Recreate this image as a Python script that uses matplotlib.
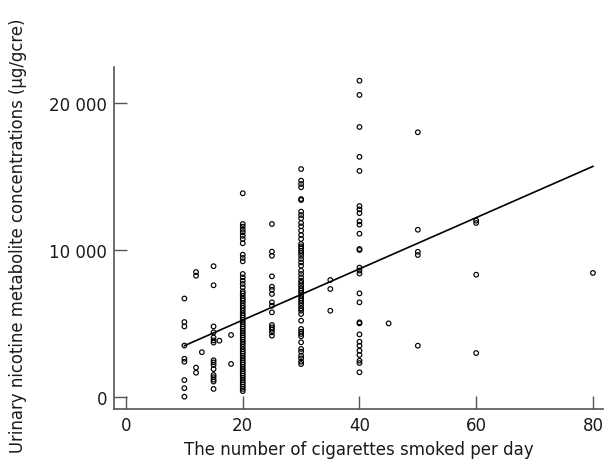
import matplotlib
matplotlib.use("Agg")
import matplotlib.pyplot as plt
import numpy as np

# cigarettes per day -> urinary nicotine metabolite (ug/gcre)
cig10 = [6700, 5100, 4800, 3500, 2600, 2400, 1150, 600, 20]
cig12 = [8500, 8250, 2000, 1650]
cig13 = [3050]
cig15 = [8900, 7600, 4800, 4400, 4050, 3850, 3700, 2500, 2350, 2180, 1900,
         1500, 1350, 1180, 1050, 550]
cig16 = [3830]
cig18 = [4220, 2250]
cig20 = [13860, 11770, 11590, 11380, 11200, 10970, 10750, 10460, 9680, 9460,
         9230, 8370, 8140, 7910, 7690, 7460, 7190, 7050, 6880, 6700, 6550,
         6380, 6200, 6050, 5880, 5700, 5550, 5400, 5250, 5100, 4950, 4800,
         4650, 4500, 4350, 4200, 4050, 3900, 3750, 3600, 3420, 3250, 3100,
         2950, 2800, 2650, 2500, 2350, 2200, 2050, 1900, 1750, 1600, 1450,
         1300, 1150, 1000, 850, 700, 550, 400]
cig25 = [11770, 9890, 9610, 8210, 7500, 7300, 7010, 6440, 6210, 5760, 4900,
         4740, 4580, 4400, 4170]
cig30 = [15510, 14720, 14490, 14270, 13470, 13400, 12610, 12380, 12160,
         11840, 11610, 11320, 11020, 10750, 10410, 10250, 10120, 9950, 9800,
         9610, 9390, 9160, 8930, 8590, 8370, 8140, 7910, 7760, 7570, 7390,
         7230, 7070, 6890, 6710, 6550, 6390, 6210, 6030, 5870, 5650, 5190,
         4630, 4440, 4290, 4130, 3720, 3270, 3080, 2810, 2630, 2400, 2240]
cig35 = [7960, 7350, 5870]
cig40 = [21520, 20550, 18370, 16340, 15380, 12990, 12760, 12510, 11950,
         11730, 11110, 10070, 10000, 8800, 8600, 8400, 7050, 6440, 5080,
         5010, 4260, 3760, 3490, 3150, 2860, 2470, 2310, 1680]
cig45 = [5010]
cig50 = [18010, 11380, 9880, 9660, 3490]
cig60 = [12000, 11840, 8320, 2990]
cig80 = [8440]

groups = {10: cig10, 12: cig12, 13: cig13, 15: cig15, 16: cig16, 18: cig18,
          20: cig20, 25: cig25, 30: cig30, 35: cig35, 40: cig40, 45: cig45,
          50: cig50, 60: cig60, 80: cig80}

# fitted line end points as drawn
line_x = [10, 80]
line_y = [3490, 15690]

xticks = [0, 20, 40, 60, 80]
yticks = [0, 10000, 20000]
ytick_labels = ["0", "10 000", "20 000"]

xs = []
ys = []
for k, vals in groups.items():
    xs += [k] * len(vals)
    ys += vals

fig = plt.figure(figsize=(6.08, 4.64), dpi=100)
ax = fig.add_axes([0.1875, 0.1164, 0.8045, 0.737])

ax.scatter(xs, ys, s=11, facecolors="none", edgecolors="black", linewidths=0.85)
ax.plot(line_x, line_y, color="black", linewidth=1.2)

ax.set_xlim(-2.06, 81.75)
ax.set_ylim(-816, 22450)

ax.spines["top"].set_visible(False)
ax.spines["right"].set_visible(False)
for s in ["left", "bottom"]:
    ax.spines[s].set_color("#555555")
    ax.spines[s].set_linewidth(1.2)

ax.set_xticks(xticks)
ax.set_yticks(yticks)
ax.set_yticklabels(ytick_labels)
ax.tick_params(direction="in", length=9.5, width=1.0, color="#555555",
               labelsize=12, labelcolor="#1a1a1a", pad=5)

ax.set_xlabel("The number of cigarettes smoked per day", fontsize=12,
              color="#1a1a1a")
ax.set_ylabel("Urinary nicotine metabolite concentrations (\u00b5g/gcre)",
              fontsize=11.9, color="#1a1a1a")
ax.yaxis.set_label_coords(-0.178, 0.51)
ax.xaxis.set_label_coords(0.5, -0.09)

fig.savefig("out.png", dpi=100)
